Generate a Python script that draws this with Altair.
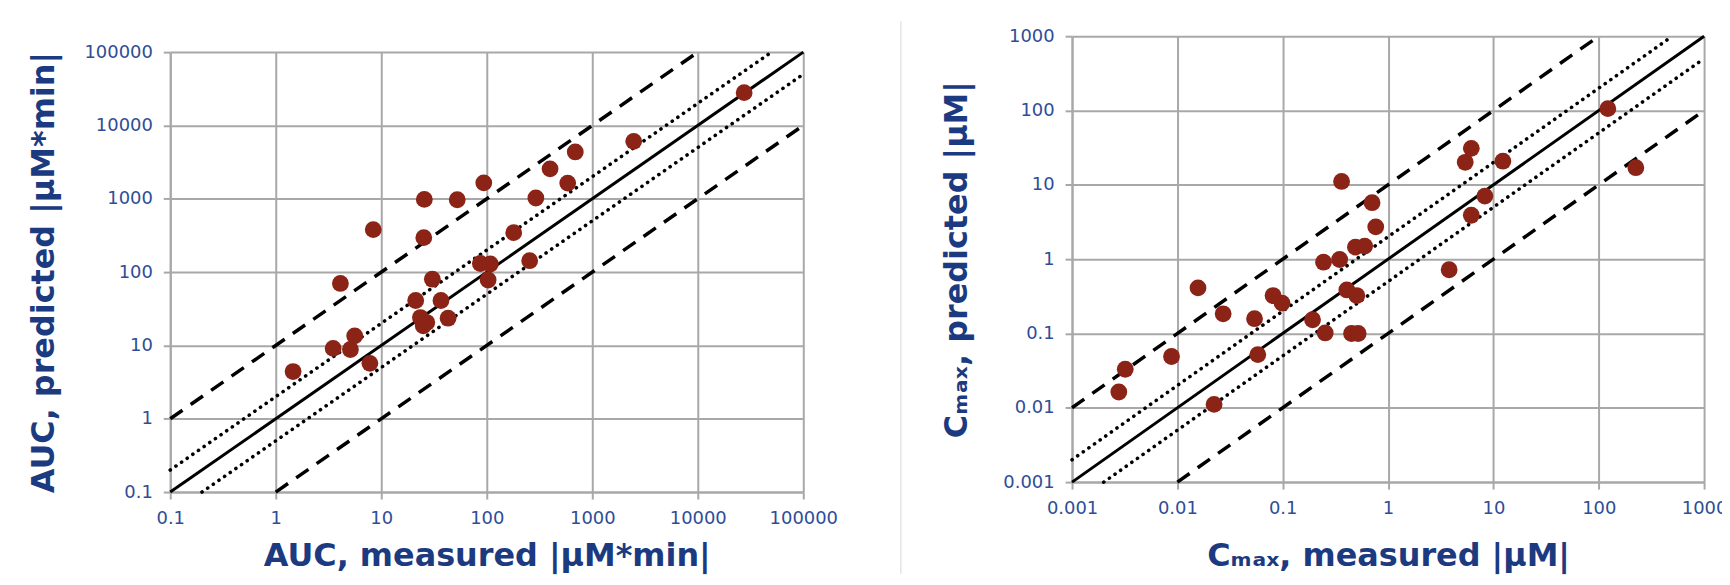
import altair as alt
import pandas as pd

# ---------------- data ----------------
auc_measured = [1.46, 3.5, 5.1, 5.6, 7.8, 4.1, 8.4, 25.6, 25.3, 52.5, 93.7, 21.2, 30.5,
                36.8, 43, 23.5, 27, 25, 87, 108, 103, 255, 180, 292, 398, 585, 690, 2470, 27500]
auc_predicted = [4.4, 9.1, 8.8, 13.5, 5.7, 70, 380, 980, 295, 970, 1650, 41, 80,
                 41, 23.5, 24, 20.5, 18.5, 131, 129, 78, 143, 345, 1025, 2560, 1635, 4350, 6070, 28000]

cmax_measured = [0.00278, 0.0032, 0.0088, 0.0157, 0.0272, 0.0223, 0.054, 0.058, 0.081, 0.0986,
                 0.192, 0.253, 0.244, 0.347, 0.362, 0.406, 0.505, 0.45, 0.52, 0.49, 0.6, 0.705,
                 0.764, 3.8, 5.4, 6.17, 6.17, 8.3, 12.3, 122, 225]
cmax_predicted = [0.0163, 0.033, 0.049, 0.41, 0.184, 0.0111, 0.158, 0.052, 0.324, 0.256,
                  0.153, 0.1016, 0.91, 0.99, 11.1, 0.385, 0.324, 0.1, 0.1, 1.45, 1.5, 5.75,
                  2.72, 0.72, 20.1, 31, 3.9, 7.06, 20.8, 106, 17]

auc_ticks = [0.1, 1, 10, 100, 1000, 10000, 100000]
cmax_ticks = [0.001, 0.01, 0.1, 1, 10, 100, 1000]

# reference lines (identity, 2-fold, 10-fold): explicit end points
line_names = ["unity", "2-fold up", "2-fold down", "10-fold up", "10-fold down"]
line_styles = ["solid", "dotted", "dotted", "dashed", "dashed"]
auc_line_x0 = [0.1, 0.1, 0.2, 0.1, 1]
auc_line_y0 = [0.1, 0.2, 0.1, 1, 0.1]
auc_line_x1 = [100000, 50000, 100000, 10000, 100000]
auc_line_y1 = [100000, 100000, 50000, 100000, 10000]
cmax_line_x0 = [0.001, 0.001, 0.002, 0.001, 0.01]
cmax_line_y0 = [0.001, 0.002, 0.001, 0.01, 0.001]
cmax_line_x1 = [1000, 500, 1000, 100, 1000]
cmax_line_y1 = [1000, 1000, 500, 1000, 100]

# ---------------- styling ----------------
DOT = "#8B2316"
GRID = "#a8a8a8"
LABEL = "#2E4D96"
TITLE = "#1B3A80"
FONT = "DejaVu Sans"


def lines_df(x0, y0, x1, y1):
    rows = []
    for i, name in enumerate(line_names):
        rows.append({"line": name, "style": line_styles[i], "x": x0[i], "y": y0[i], "o": 0})
        rows.append({"line": name, "style": line_styles[i], "x": x1[i], "y": y1[i], "o": 1})
    return pd.DataFrame(rows)


def axis(values, title, title_pad):
    return alt.Axis(
        values=values, format="~g", title=title,
        grid=True, gridColor=GRID, gridWidth=2, gridOpacity=1,
        domainColor=GRID, domainWidth=2,
        tickColor=GRID, tickWidth=2, tickSize=7,
        labelFont=FONT, labelFontSize=18, labelColor=LABEL, labelPadding=11,
        labelOverlap=False, labelFlush=False, labelBound=False,
        titleFont=FONT, titleFontSize=32, titleFontWeight="bold", titleColor=TITLE,
        titlePadding=title_pad,
    )


def panel(mx, py, ticks, x0, y0, x1, y1, xtitle, ytitle, w, h, xpad, ypad):
    dom = [ticks[0], ticks[-1]]
    xs = alt.Scale(type="log", domain=dom, nice=False)
    ys = alt.Scale(type="log", domain=dom, nice=False)
    xenc = alt.X("x:Q", scale=xs, axis=axis(ticks, xtitle, xpad))
    yenc = alt.Y("y:Q", scale=ys, axis=axis(ticks, ytitle, ypad))

    ldf = lines_df(x0, y0, x1, y1)
    base = alt.Chart(ldf)
    solid = base.transform_filter(alt.datum.style == "solid").mark_line(
        color="black", strokeWidth=3).encode(x=xenc, y=yenc, detail="line:N", order="o:Q")
    dotted = base.transform_filter(alt.datum.style == "dotted").mark_line(
        color="black", strokeWidth=3.6, strokeDash=[0.1, 6.8], strokeCap="round").encode(
        x="x:Q", y="y:Q", detail="line:N", order="o:Q")
    dashed = base.transform_filter(alt.datum.style == "dashed").mark_line(
        color="black", strokeWidth=3.5, strokeDash=[15, 10]).encode(
        x="x:Q", y="y:Q", detail="line:N", order="o:Q")

    pts = alt.Chart(pd.DataFrame({"x": mx, "y": py})).mark_circle(
        color=DOT, size=285, opacity=1).encode(x="x:Q", y="y:Q")

    return alt.layer(solid, dotted, dashed, pts).properties(width=w, height=h)


left = panel(auc_measured, auc_predicted, auc_ticks,
             auc_line_x0, auc_line_y0, auc_line_x1, auc_line_y1,
             "AUC, measured |µM*min|", "AUC, predicted |µM*min|", 636, 442, 13, 24)

# invisible spacer that pushes the left panel down relative to the right one
spacer = alt.Chart(pd.DataFrame({"a": [0]})).mark_rule(opacity=0).encode(
    x=alt.value(0), y=alt.value(0), y2=alt.value(1)).properties(width=636, height=5)
left_col = alt.vconcat(spacer, left, spacing=0)

right = panel(cmax_measured, cmax_predicted, cmax_ticks,
              cmax_line_x0, cmax_line_y0, cmax_line_x1, cmax_line_y1,
              "Cₘₐₓ, measured |µM|", "Cₘₐₓ, predicted |µM|", 635, 448, 23, 29)

# light vertical divider between the two panels
sep = alt.Chart(pd.DataFrame({"a": [0]})).mark_rule(color="#e4e4e4", strokeWidth=1.5).encode(
    x=alt.value(-172), y=alt.value(-15), y2=alt.value(540))
right = alt.layer(right, sep)

# slightly negative right padding lets the last "1000" label run into the page edge
chart = alt.hconcat(left_col, right, spacing=61).properties(
    padding={"left": 18, "top": 10, "right": -6, "bottom": 0},
    background="white",
).configure_view(stroke="transparent")

chart.save("out.html", embed_options={"renderer": "svg", "actions": False})
